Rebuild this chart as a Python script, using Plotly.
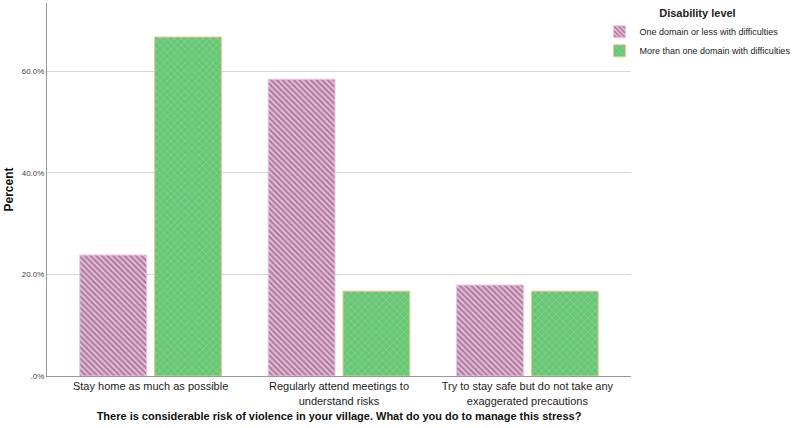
import plotly.graph_objects as go

categories = ["Stay home as much as possible",
              "Regularly attend meetings to<br>understand risks",
              "Try to stay safe but do not take any<br>exaggerated precautions"]
series_names = ["One domain or less with difficulties",
                "More than one domain with difficulties"]
one_or_less = [23.8, 58.4, 17.9]
more_than_one = [66.7, 16.7, 16.7]
tick_vals = [0, 20, 40, 60]
tick_text = [".0%", "20.0%", "40.0%", "60.0%"]

FONT = "Arial, Liberation Sans, sans-serif"

fig = go.Figure()
fig.add_trace(go.Bar(
    x=[0, 1, 2], y=one_or_less, name=series_names[0],
    marker=dict(color="#f2c0e0", line=dict(color="#f2c0e0", width=1),
                pattern=dict(shape="\\", fgcolor="#5e3d58", bgcolor="#f2c0e0",
                             size=4, solidity=0.55, fillmode="overlay")),
    hoverinfo="skip"))
fig.add_trace(go.Bar(
    x=[0, 1, 2], y=more_than_one, name=series_names[1],
    marker=dict(color="#60c97a", line=dict(color="#e2cc8c", width=1),
                pattern=dict(shape="x", fgcolor="#d9c98a", bgcolor="#60c97a",
                             size=5, solidity=0.3, fillmode="overlay")),
    hoverinfo="skip"))

fig.update_layout(
    width=798, height=428,
    margin=dict(l=47, r=165, t=3, b=52),
    paper_bgcolor="white", plot_bgcolor="white",
    barmode="group", bargap=0.206, bargroupgap=0.107,
    font=dict(family=FONT, color="#222"),
    showlegend=True,
    legend=dict(x=0.946, xanchor="left", y=1.0, yanchor="top",
                xref="paper", yref="paper",
                font=dict(size=9, color="#222", family=FONT),
                title=dict(text="<b>Disability level</b>", side="top center",
                           font=dict(size=11, color="#222", family=FONT)),
                itemwidth=30, tracegroupgap=0, bgcolor="rgba(0,0,0,0)"),
    xaxis=dict(range=[-0.55, 2.55], tickvals=[0, 1, 2], ticktext=categories,
               tickfont=dict(size=11, color="#222"), ticks="",
               showline=True, linecolor="#999", linewidth=1,
               showgrid=False, zeroline=False,
               title=dict(text="<b>There is considerable risk of violence in your village. What do you do to manage this stress?</b>",
                          font=dict(size=11, color="#111"), standoff=6)),
    yaxis=dict(range=[0, 73.4], tickvals=tick_vals, ticktext=tick_text,
               tickfont=dict(size=8, color="#444"), ticks="",
               showline=True, linecolor="#999", linewidth=1,
               showgrid=True, gridcolor="#d6d6d6", gridwidth=1,
               zeroline=False,
               title=dict(text="<b>Percent</b>", font=dict(size=12, color="#111"),
                          standoff=5)),
)

fig.write_html("out.html")
